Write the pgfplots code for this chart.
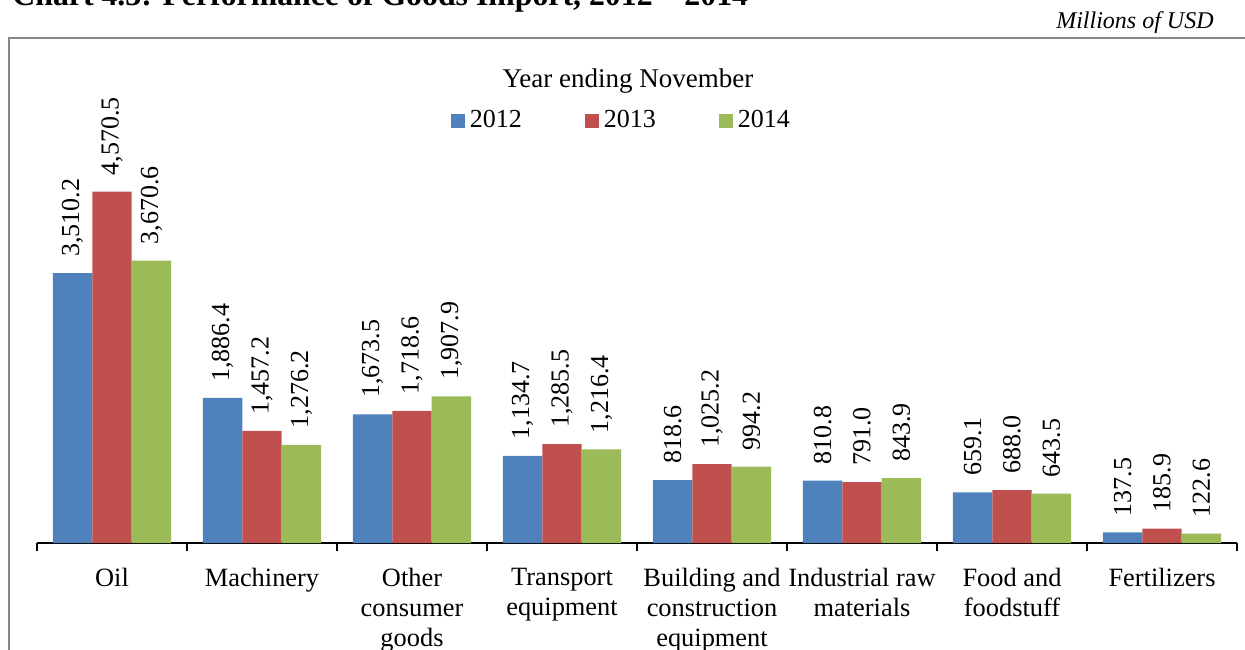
\documentclass[border=0pt]{standalone}
\usepackage{fontspec}
\setmainfont{Liberation Serif}
\usepackage{pgfplots}
\pgfplotsset{compat=1.18}
\definecolor{cA}{HTML}{4F81BD}
\definecolor{cB}{HTML}{C0504D}
\definecolor{cC}{HTML}{9BBB59}
\definecolor{frameC}{HTML}{878787}
\begin{document}
\begin{tikzpicture}
\begin{axis}[
  at={(0,0)}, anchor=south west,
  scale only axis, width=600pt, height=230.7pt,
  xmin=-0.5, xmax=7.5, ymin=0, ymax=6000,
  clip=false,
  axis x line=bottom, axis y line=none,
  axis line style={-, black, line width=0.8pt},
  xtick={0,...,7},
  xticklabels={Oil, Machinery, {Other\\consumer\\goods}, {Transport\\equipment}, {Building and\\construction\\equipment}, {Industrial raw\\materials}, {Food and\\foodstuff}, Fertilizers},
  major tick length=0pt,
  minor xtick={-0.5,0.5,...,7.5},
  minor tick length=4pt,
  tick align=outside,
  minor tick style={black, line width=0.8pt},
  ytick=\empty,
  xticklabel style={font=\fontsize{13.2}{15}\selectfont, align=center, yshift=-9pt},
  ybar=0pt, bar width=19.7pt,
  nodes near coords,
  every node near coord/.append style={rotate=90, anchor=west, font=\fontsize{13}{15}\selectfont, inner xsep=8pt, inner ysep=1pt, text=black},
  /pgf/number format/fixed, /pgf/number format/fixed zerofill, /pgf/number format/precision=1, /pgf/number format/1000 sep={,}, /pgf/number format/assume math mode=true,
  legend columns=3,
  legend style={at={(0.487,0.915)}, anchor=center, draw=none, fill=none, font=\fontsize{13}{15}\selectfont, nodes={inner sep=1pt}, /tikz/every odd column/.append style={column sep=1.5pt}, /tikz/every even column/.append style={column sep=30.5pt}},
  legend image code/.code={\fill[#1] (0pt,-3.5pt) rectangle (7pt,3.5pt);},
]
\addplot[fill=cA, draw=none] coordinates {(0,3510.2) (1,1886.4) (2,1673.5) (3,1134.7) (4,818.6) (5,810.8) (6,659.1) (7,137.5)};
\addplot[fill=cB, draw=none] coordinates {(0,4570.5) (1,1457.2) (2,1718.6) (3,1285.5) (4,1025.2) (5,791.0) (6,688.0) (7,185.9)};
\addplot[fill=cC, draw=none] coordinates {(0,3670.6) (1,1276.2) (2,1907.9) (3,1216.4) (4,994.2) (5,843.9) (6,643.5) (7,122.6)};
\legend{2012,2013,2014}
\end{axis}
\node[font=\fontsize{13.5}{15}\selectfont, anchor=base, inner sep=0pt] at (295.5pt,227.5pt) {Year ending November};
\node[font=\itshape\fontsize{12}{14}\selectfont, anchor=base east, inner sep=0pt] at (588.5pt,257pt) {Millions of USD};
\node[font=\bfseries\fontsize{15.9}{18}\selectfont, anchor=base west, inner sep=0pt] at (-12.5pt,268.75pt) {Chart 4.3: Performance of Goods Import, 2012 -- 2014};
\draw[frameC, line width=1pt] (-13.75pt,-60pt) -- (-13.75pt,252.5pt) -- (610pt,252.5pt);
\pgfresetboundingbox
\path (-18.5pt,-53pt) rectangle (604pt,271.5pt);
\end{tikzpicture}
\end{document}
